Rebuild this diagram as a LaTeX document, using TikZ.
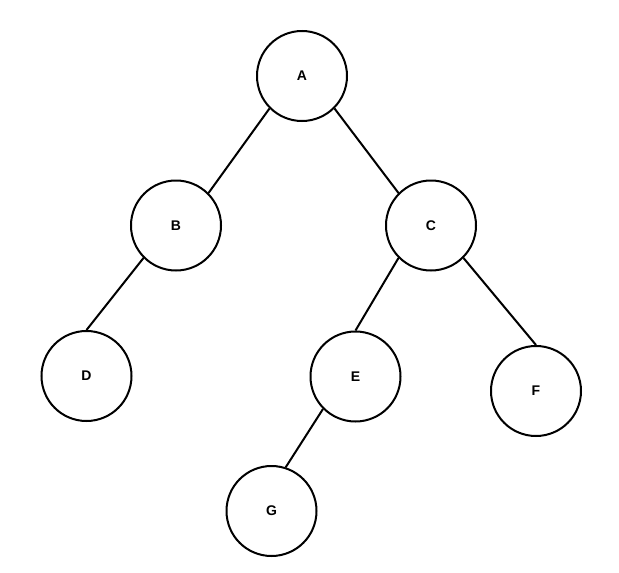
\documentclass[tikz,border=0pt]{standalone}
\usepackage{fontspec}
\setmainfont{Liberation Sans}
\begin{document}
\begin{tikzpicture}[x=1pt,y=-1pt,
  treenode/.style={circle,draw=black,line width=2pt,minimum size=90pt,inner sep=0pt,font=\fontsize{14}{14}\selectfont\bfseries},
  edge/.style={line width=2pt,draw=black}]
\useasboundingbox (0,0) rectangle (619,573);
\node[treenode] (A) at (302,76) {A};
\node[treenode] (B) at (176,225.5) {B};
\node[treenode] (C) at (431,225.5) {C};
\node[treenode] (D) at (86.5,376) {D};
\node[treenode] (E) at (355.5,376.5) {E};
\node[treenode] (F) at (536,391) {F};
\node[treenode] (G) at (271.5,511) {G};
\draw[edge] (A.225) -- (B.45);
\draw[edge] (A.315) -- (C.135);
\draw[edge] (B.225) -- (D.north);
\draw[edge] (C.225) -- (E.north);
\draw[edge] (C.315) -- (F.north);
\draw[edge] (E.225) -- (G.72);
\end{tikzpicture}
\end{document}
